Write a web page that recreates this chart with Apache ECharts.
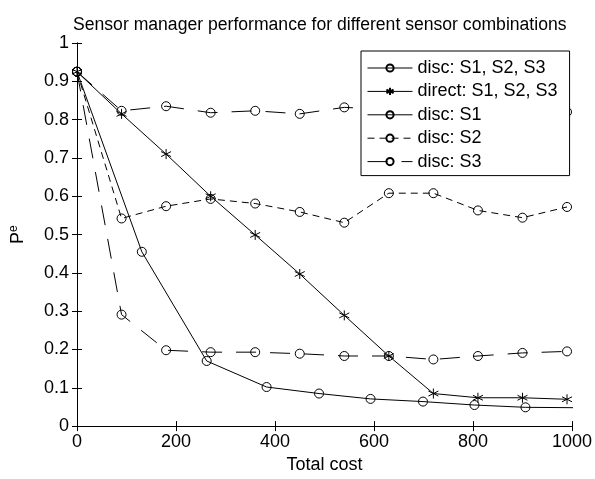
<!DOCTYPE html>
<html>
<head>
<meta charset="utf-8">
<script src="https://cdn.jsdelivr.net/npm/echarts@6/dist/echarts.min.js"></script>
<style>
  html, body { margin: 0; padding: 0; background: #fff; }
  #chart { width: 595px; height: 479px; }
</style>
</head>
<body>
<div id="chart"></div>
<script>
// x positions (total cost)
var costSteps = [0, 90, 180, 270, 360, 450, 540, 630, 720, 810, 900, 990];
var costAll = [0, 131, 262, 383, 489, 593, 699, 803, 906, 1010];

// Pe values
var discAll = [0.925, 0.455, 0.170, 0.102, 0.085, 0.071, 0.064, 0.055, 0.049, 0.048];
var directAll = [0.925, 0.815, 0.710, 0.600, 0.499, 0.397, 0.289, 0.183, 0.085, 0.074, 0.074, 0.070];
var discS1 = [0.925, 0.823, 0.835, 0.818, 0.823, 0.815, 0.832, 0.826, 0.821, 0.828, 0.818, 0.820];
var discS2 = [0.925, 0.542, 0.574, 0.593, 0.581, 0.559, 0.531, 0.608, 0.608, 0.563, 0.544, 0.572];
var discS3 = [0.925, 0.291, 0.198, 0.193, 0.193, 0.189, 0.183, 0.183, 0.174, 0.183, 0.191, 0.195];

var names = ["disc: S1, S2, S3", "direct: S1, S2, S3", "disc: S1", "disc: S2", "disc: S3"];

var FONT = "Liberation Sans, Arial, sans-serif";
var STAR = "path://M5,0 L5,10 M0.7,2.5 L9.3,7.5 M0.7,7.5 L9.3,2.5";

function pairs(xs, ys) {
  var out = [];
  for (var i = 0; i < ys.length; i++) {
    out.push([xs[i], ys[i]]);
  }
  return out;
}

function mkSeries(name, data, dash, symbol) {
  return {
    name: name,
    type: "line",
    data: data,
    symbol: symbol || "circle",
    symbolSize: symbol ? 10 : 9,
    showAllSymbol: true,
    clip: true,
    animation: false,
    lineStyle: { color: "#000", width: 1, type: dash },
    itemStyle: {
      color: symbol ? "#000" : "transparent",
      borderColor: "#000",
      borderWidth: 1,
    },
    emphasis: { disabled: true },
  };
}

var chart = echarts.init(document.getElementById("chart"));

var tickAxis = {
  axisLine: { show: true, lineStyle: { color: "#000", width: 1 } },
  axisTick: { show: true, inside: true, length: 5, lineStyle: { color: "#000" } },
  splitLine: { show: false },
};

var option = {
  backgroundColor: "#fff",
  textStyle: { fontFamily: FONT, color: "#000" },
  title: {
    text: "Sensor manager performance for different sensor combinations",
    left: 73,
    top: 16,
    padding: 0,
    textStyle: { fontFamily: FONT, fontSize: 17.6, fontWeight: "normal", color: "#000" },
  },
  grid: { left: 77, right: 22, top: 43, bottom: 44, containLabel: false },
  legend: {
    left: 361,
    top: 51,
    orient: "vertical",
    padding: [8, 12, 5, 6],
    itemGap: 5.4,
    itemWidth: 45,
    itemHeight: 9,
    borderColor: "#000",
    borderWidth: 1,
    backgroundColor: "#fff",
    lineStyle: { width: 1 },
    textStyle: { fontFamily: FONT, fontSize: 18, lineHeight: 18, color: "#000" },
    z: 10,
    data: [
      { name: names[0] },
      { name: names[1] },
      { name: names[2], lineStyle: { type: "solid", width: 1 } },
      { name: names[3] },
      { name: names[4] },
    ],
    selectedMode: false,
  },
  xAxis: [
    Object.assign({
      type: "value",
      min: 0,
      max: 1000,
      interval: 200,
      name: "Total cost",
      nameLocation: "middle",
      nameGap: 28,
      nameTextStyle: { fontFamily: FONT, fontSize: 18, color: "#000" },
      axisLabel: {
        fontFamily: FONT, fontSize: 18, color: "#000", margin: 7,
        formatter: function (v) { return String(v); },
      },
    }, tickAxis),
    Object.assign({
      type: "value",
      position: "top",
      min: 0,
      max: 1000,
      interval: 200,
      axisLabel: { show: false },
    }, tickAxis),
  ],
  yAxis: [
    Object.assign({
      type: "value",
      min: 0,
      max: 1,
      interval: 0.1,
      name: "P{e|e}",
      nameLocation: "middle",
      nameRotate: 90,
      nameGap: 48,
      nameTextStyle: {
        fontFamily: FONT,
        fontSize: 18,
        color: "#000",
        rich: { e: { fontSize: 12, fontFamily: FONT, color: "#000", padding: [0, 0, 9, 0] } },
      },
      axisLabel: { fontFamily: FONT, fontSize: 18, color: "#000", margin: 8 },
    }, tickAxis),
    Object.assign({
      type: "value",
      position: "right",
      min: 0,
      max: 1,
      interval: 0.1,
      axisLabel: { show: false },
    }, tickAxis),
  ],
  series: [
    mkSeries(names[0], pairs(costAll, discAll), "solid"),
    mkSeries(names[1], pairs(costSteps, directAll), "solid", STAR),
    mkSeries(names[2], pairs(costSteps, discS1), [20, 14]),
    mkSeries(names[3], pairs(costSteps, discS2), [7, 5]),
    mkSeries(names[4], pairs(costSteps, discS3), [20, 14]),
  ],
};

chart.setOption(option);
</script>
</body>
</html>
